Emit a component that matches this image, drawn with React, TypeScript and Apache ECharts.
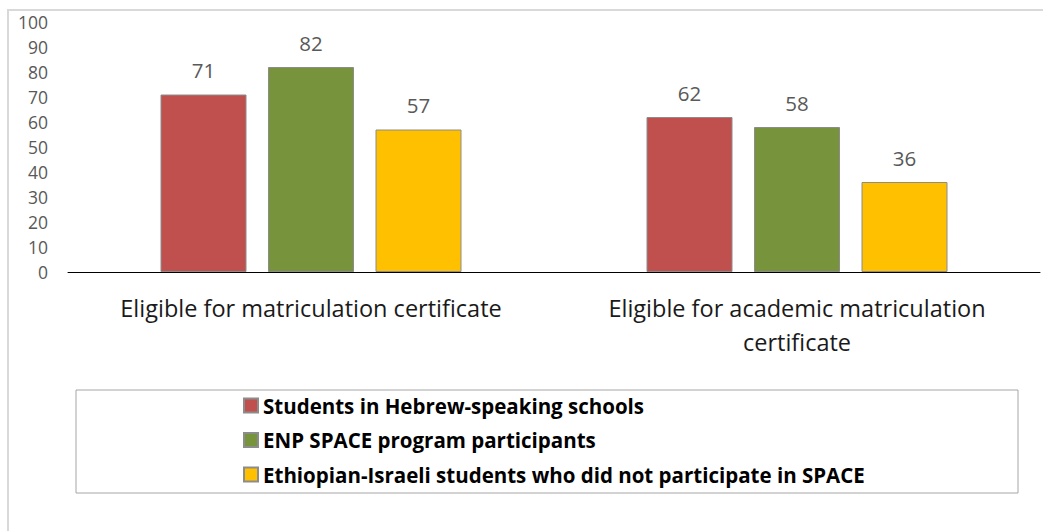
import React, { useEffect, useRef } from "react";
import * as echarts from "echarts";

const categories = [
  "Eligible for matriculation certificate",
  "Eligible for academic matriculation certificate",
];
const categoryDisplay = [
  "Eligible for matriculation certificate",
  "Eligible for academic matriculation\ncertificate",
];
const seriesNames = [
  "Students in Hebrew-speaking schools",
  "ENP SPACE program participants",
  "Ethiopian-Israeli students who did not participate in SPACE",
];
const hebrewSchools = [71, 62];
const enpSpace = [82, 58];
const ethiopianNoSpace = [57, 36];
const colors = ["#C0504D", "#77933C", "#FFC000"];
const FONT = "'Open Sans', 'Noto Sans', sans-serif";

export default function App() {
  const ref = useRef<HTMLDivElement>(null);
  useEffect(() => {
    if (!ref.current) return;
    const chart = echarts.init(ref.current, null, { renderer: "svg" });
    const values = [hebrewSchools, enpSpace, ethiopianNoSpace];
    chart.setOption({
      animation: false,
      backgroundColor: "#ffffff",
      textStyle: { fontFamily: FONT },
      grid: { left: 68, right: 13, top: 22, bottom: 259, containLabel: false },
      xAxis: {
        type: "category",
        data: categories,
        axisLine: { lineStyle: { color: "#000000", width: 1 } },
        axisTick: { show: false },
        axisLabel: {
          color: "#1a1a1a",
          fontSize: 23.5,
          fontFamily: FONT,
          margin: 19,
          lineHeight: 34,
          interval: 0,
          formatter: (v: string) => categoryDisplay[categories.indexOf(v)] ?? v,
        },
      },
      yAxis: {
        type: "value",
        min: 0,
        max: 100,
        interval: 10,
        axisLine: { show: false },
        axisTick: { show: false },
        splitLine: { show: false },
        axisLabel: { color: "#595959", fontSize: 17.5, fontFamily: FONT, margin: 20 },
      },
      legend: {
        orient: "vertical",
        left: 238,
        top: 390,
        icon: "rect",
        itemWidth: 14,
        itemHeight: 14,
        itemGap: 13.5,
        data: seriesNames,
        textStyle: {
          color: "#000000",
          fontSize: 20.5,
          fontWeight: "bold",
          fontFamily: FONT,
          lineHeight: 20,
        },
      },
      graphic: [
        {
          type: "line",
          shape: { x1: 7, y1: 10, x2: 1043, y2: 10 },
          style: { stroke: "#d9d9d9", lineWidth: 2 },
        },
        {
          type: "line",
          shape: { x1: 8, y1: 10, x2: 8, y2: 531 },
          style: { stroke: "#d9d9d9", lineWidth: 2 },
        },
        {
          type: "rect",
          shape: { x: 76, y: 390, width: 942, height: 103 },
          style: { fill: "none", stroke: "#a6a6a6", lineWidth: 1 },
        },
      ],
      series: seriesNames.map((name, i) => ({
        name,
        type: "bar",
        data: values[i],
        barWidth: 86,
        barGap: "25%",
        itemStyle: { color: colors[i], borderColor: "#8c8c8c", borderWidth: 1 },
        label: {
          show: true,
          position: "top",
          distance: 14,
          color: "#595959",
          fontSize: 20.5,
          fontFamily: FONT,
        },
      })),
    });
    return () => chart.dispose();
  }, []);
  return (
    <div
      ref={ref}
      style={{ position: "fixed", left: 0, top: 0, width: 1053, height: 531 }}
    />
  );
}
